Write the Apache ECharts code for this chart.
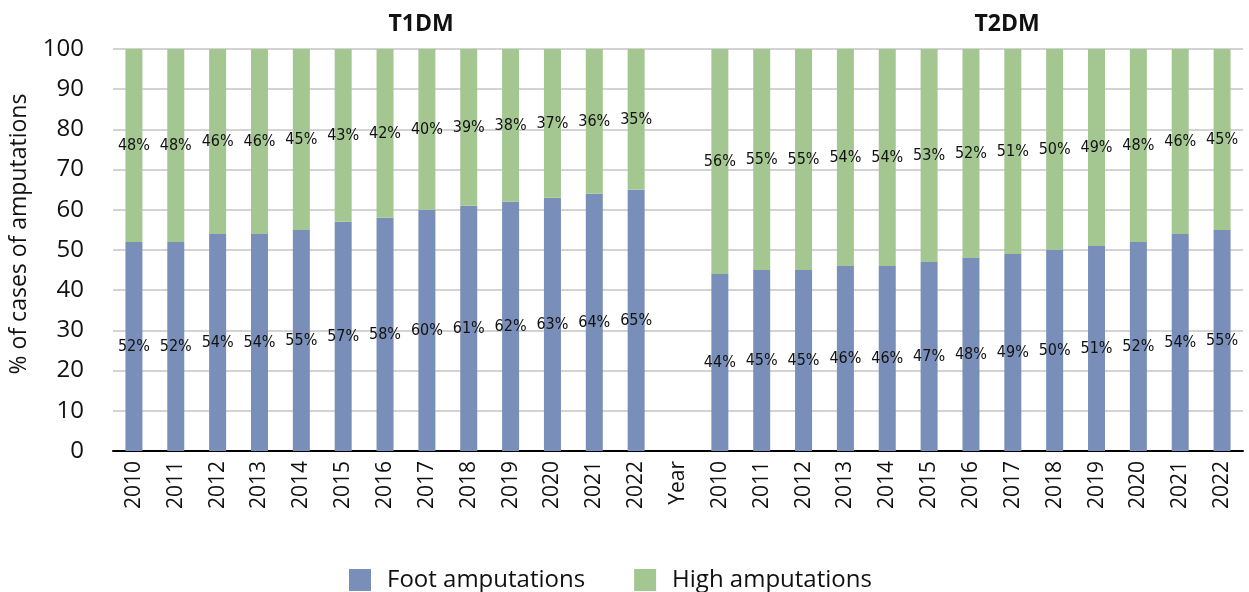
<!DOCTYPE html>
<html>
<head>
<meta charset="utf-8">
<script src="https://cdn.jsdelivr.net/npm/echarts@6/dist/echarts.min.js"></script>
<style>
  html, body { margin: 0; padding: 0; background: #fff; }
  #chart { width: 1249px; height: 592px; }
</style>
</head>
<body>
<div id="chart"></div>
<script>
// Years shown for each diabetes type; a spacer category labelled "Year" sits between them
const years = ['2010','2011','2012','2013','2014','2015','2016','2017','2018','2019','2020','2021','2022'];
const separator = 'Year';

// Share of amputations (%) by type, T1DM then T2DM
const t1Foot = [52, 52, 54, 54, 55, 57, 58, 60, 61, 62, 63, 64, 65];
const t1High = [48, 48, 46, 46, 45, 43, 42, 40, 39, 38, 37, 36, 35];
const t2Foot = [44, 45, 45, 46, 46, 47, 48, 49, 50, 51, 52, 54, 55];
const t2High = [56, 55, 55, 54, 54, 53, 52, 51, 50, 49, 48, 46, 45];

const categories = years.concat([separator], years);
const footData = t1Foot.concat([null], t2Foot);
const highData = t1High.concat([null], t2High);

const FONT = "'Open Sans', 'Noto Sans', sans-serif";
const LABEL_FONT = "'DejaVu Sans Condensed', 'Liberation Sans Narrow', 'Roboto Condensed', sans-serif";

const chart = echarts.init(document.getElementById('chart'), null, { renderer: 'canvas' });

const labelStyle = {
  show: true,
  position: 'inside',
  formatter: p => (p.value == null ? '' : p.value + '%'),
  color: '#111',
  fontFamily: LABEL_FONT,
  fontSize: 16
};

chart.setOption({
  animation: false,
  backgroundColor: '#ffffff',
  title: [
    { text: 'T1DM', left: 416, top: 8, textAlign: 'center',
      textStyle: { fontFamily: FONT, fontWeight: 'bold', fontSize: 23, color: '#111' } },
    { text: 'T2DM', left: 1002, top: 8, textAlign: 'center',
      textStyle: { fontFamily: FONT, fontWeight: 'bold', fontSize: 23, color: '#111' } }
  ],
  legend: {
    top: 563,
    left: 344,
    itemWidth: 22,
    itemHeight: 22,
    itemGap: 49,
    icon: 'rect',
    textStyle: { fontFamily: FONT, fontSize: 24, color: '#111', padding: [0, 0, 0, 11] },
    data: ['Foot amputations', 'High amputations']
  },
  grid: { left: 112, right: 6, top: 49, bottom: 141, containLabel: false },
  xAxis: {
    type: 'category',
    data: categories,
    axisLine: { lineStyle: { color: '#000', width: 2 } },
    axisTick: { show: false },
    axisLabel: {
      rotate: 90,
      interval: 0,
      margin: 10,
      fontFamily: FONT,
      fontSize: 21,
      color: '#111'
    }
  },
  yAxis: {
    type: 'value',
    min: 0,
    max: 100,
    interval: 10,
    name: '% of cases of amputations',
    nameLocation: 'middle',
    nameGap: 82,
    nameRotate: 90,
    nameTextStyle: { fontFamily: FONT, fontSize: 23, color: '#111', padding: [0, 0, 0, 32] },
    axisLine: { show: false },
    axisTick: { show: false },
    axisLabel: { fontFamily: FONT, fontSize: 24, color: '#111', margin: 29 },
    splitLine: { lineStyle: { color: '#c4c4c4', width: 1.5 } }
  },
  series: [
    {
      name: 'Foot amputations',
      type: 'bar',
      stack: 'total',
      barWidth: 17,
      data: footData,
      itemStyle: { color: '#798FB9' },
      label: labelStyle
    },
    {
      name: 'High amputations',
      type: 'bar',
      stack: 'total',
      barWidth: 17,
      data: highData,
      itemStyle: { color: '#A4C792' },
      label: labelStyle
    }
  ]
});
</script>
</body>
</html>
